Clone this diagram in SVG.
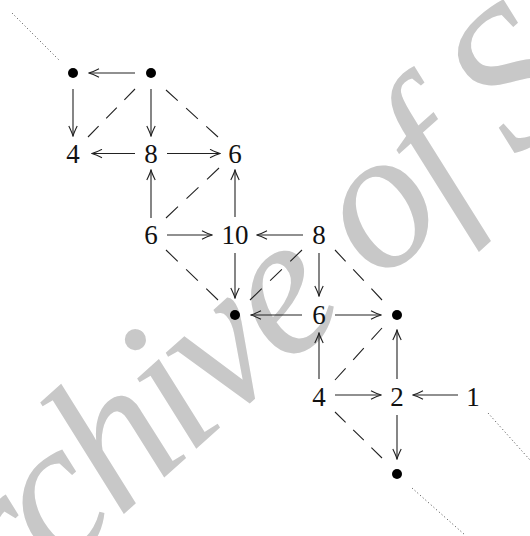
<svg xmlns="http://www.w3.org/2000/svg" width="530" height="536" viewBox="0 0 530 536">
<style>
.lbl{font-size:27px;fill:#111;text-anchor:middle}
.dot{fill:#000}
.arr{stroke:#222;stroke-width:1.1;fill:none;marker-end:url(#ah)}
.dash{stroke:#222;stroke-width:1.1;fill:none;stroke-dasharray:14 10}
.dotted{stroke:#444;stroke-width:1;fill:none;stroke-dasharray:1 2.6}
</style>
<defs>
<marker id="ah" markerUnits="userSpaceOnUse" viewBox="-11 -5 12 10" refX="0" refY="0" markerWidth="12" markerHeight="10" orient="auto">
<path d="M -10 -4.2 Q -3.5 -1 0 0 Q -3.5 1 -10 4.2" fill="none" stroke="#222" stroke-width="1.1"/>
</marker>
</defs>
<rect width="530" height="536" fill="#fff"/>
<text font-family="Liberation Serif, DejaVu Serif, serif" font-weight="normal" font-style="italic" font-size="200" letter-spacing="-6.5" fill="#c8c8c8" transform="translate(-76,694) rotate(-42)" x="0" y="0">Archive of SID</text>
<g id="cropmarks">
<line class="dotted" x1="12" y1="13" x2="59" y2="60"/>
<line class="dotted" x1="488" y1="413" x2="530" y2="460"/>
<line class="dotted" x1="412" y1="488" x2="465" y2="535"/>
</g>
<g id="connectors">
<line class="arr" x1="135" y1="73" x2="89" y2="73"/>
<line class="arr" x1="73" y1="89" x2="73" y2="136"/>
<line class="arr" x1="151" y1="89" x2="151" y2="136"/>
<line class="arr" x1="135" y1="153.5" x2="92" y2="153.5"/>
<line class="arr" x1="167" y1="153.5" x2="220" y2="153.5"/>
<line class="arr" x1="151" y1="218" x2="151" y2="170"/>
<line class="arr" x1="167" y1="235" x2="212" y2="235"/>
<line class="arr" x1="235" y1="217" x2="235" y2="170"/>
<line class="arr" x1="303" y1="235" x2="257" y2="235"/>
<line class="arr" x1="235" y1="253" x2="235" y2="298"/>
<line class="arr" x1="319" y1="253" x2="319" y2="296"/>
<line class="arr" x1="302" y1="315" x2="251" y2="315"/>
<line class="arr" x1="335" y1="315" x2="381" y2="315"/>
<line class="arr" x1="319" y1="379" x2="319" y2="333"/>
<line class="arr" x1="335" y1="395" x2="381" y2="395"/>
<line class="arr" x1="397" y1="379" x2="397" y2="330"/>
<line class="arr" x1="458" y1="395" x2="413" y2="395"/>
<line class="arr" x1="397" y1="415" x2="397" y2="459"/>
<line class="dash" pathLength="62" x1="135" y1="89" x2="88" y2="137"/>
<line class="dash" pathLength="62" x1="166" y1="90" x2="218" y2="137"/>
<line class="dash" pathLength="62" x1="166" y1="218" x2="219" y2="168"/>
<line class="dash" pathLength="62" x1="166" y1="250" x2="218" y2="300"/>
<line class="dash" pathLength="62" x1="302" y1="250" x2="250" y2="300"/>
<line class="dash" pathLength="62" x1="335" y1="250" x2="382" y2="300"/>
<line class="dash" pathLength="62" x1="335" y1="380" x2="382" y2="328"/>
<line class="dash" pathLength="62" x1="335" y1="412" x2="382" y2="458"/>
</g>
<g font-family="Liberation Serif, DejaVu Serif, serif">
<g id="n1"><circle class="dot" cx="73" cy="73" r="5"/></g>
<g id="n2"><circle class="dot" cx="151" cy="73" r="5"/></g>
<g id="n3"><text class="lbl" x="73" y="163">4</text></g>
<g id="n4"><text class="lbl" x="151" y="163">8</text></g>
<g id="n5"><text class="lbl" x="235" y="163">6</text></g>
<g id="n6"><text class="lbl" x="151" y="244">6</text></g>
<g id="n7"><text class="lbl" x="235" y="244">10</text></g>
<g id="n8"><text class="lbl" x="319" y="244">8</text></g>
<g id="n9"><circle class="dot" cx="235" cy="315" r="5"/></g>
<g id="n10"><text class="lbl" x="319" y="324">6</text></g>
<g id="n11"><circle class="dot" cx="397" cy="315" r="5"/></g>
<g id="n12"><text class="lbl" x="319" y="406">4</text></g>
<g id="n13"><text class="lbl" x="397" y="406">2</text></g>
<g id="n14"><text class="lbl" x="473" y="406">1</text></g>
<g id="n15"><circle class="dot" cx="397" cy="474" r="5"/></g>
</g>
</svg>
